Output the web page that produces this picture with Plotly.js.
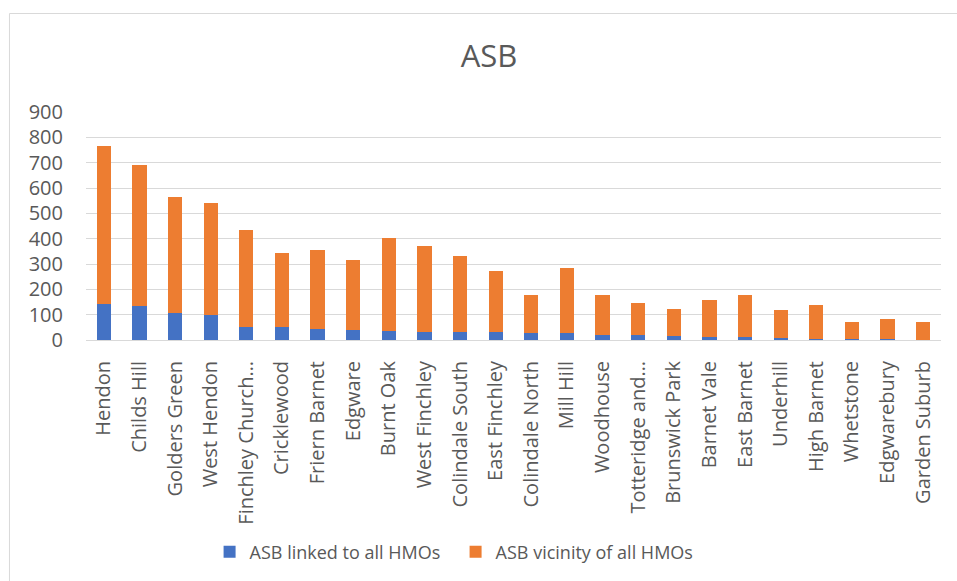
<!DOCTYPE html>
<html>
<head>
<meta charset="utf-8">
<script src="https://cdn.plot.ly/plotly-3.0.1.min.js"></script>
<style>
  html, body { margin: 0; padding: 0; background: #ffffff; }
  #chart { width: 957px; height: 581px; }
</style>
</head>
<body>
<div id="chart"></div>
<script>
// Wards, ordered as in the report
const wards = [
  "Hendon", "Childs Hill", "Golders Green", "West Hendon", "Finchley Church…",
  "Cricklewood", "Friern Barnet", "Edgware", "Burnt Oak", "West Finchley",
  "Colindale South", "East Finchley", "Colindale North", "Mill Hill", "Woodhouse",
  "Totteridge and…", "Brunswick Park", "Barnet Vale", "East Barnet", "Underhill",
  "High Barnet", "Whetstone", "Edgwarebury", "Garden Suburb"
];

// ASB incidents linked to HMOs
const asbLinked = [
  143, 134, 108, 97, 53,
  50, 45, 39, 34, 33,
  30, 30, 29, 29, 21,
  20, 14, 10, 10, 9,
  5, 4, 2, 1
];

// ASB incidents in the vicinity of HMOs
const asbVicinity = [
  623, 558, 458, 442, 382,
  294, 312, 275, 368, 340,
  300, 241, 147, 254, 156,
  126, 108, 149, 169, 108,
  133, 67, 81, 69
];

const yTicks = [0, 100, 200, 300, 400, 500, 600, 700, 800, 900];

const textGrey = "#595959";
const fontFamily = "'Open Sans', 'Noto Sans', sans-serif";

const traces = [
  {
    type: "bar",
    name: "ASB linked to all HMOs",
    x: wards,
    y: asbLinked,
    marker: { color: "#4472C4" },
    hoverinfo: "x+y+name"
  },
  {
    type: "bar",
    name: "ASB vicinity of all HMOs",
    x: wards,
    y: asbVicinity,
    marker: { color: "#ED7D31" },
    hoverinfo: "x+y+name"
  }
];

const layout = {
  width: 957,
  height: 581,
  margin: { l: 86, r: 16, t: 112, b: 241 },
  paper_bgcolor: "#ffffff",
  plot_bgcolor: "#ffffff",
  barmode: "stack",
  bargap: 0.6,
  font: { family: fontFamily, color: textGrey, size: 18 },
  title: {
    text: "ASB",
    font: { family: fontFamily, size: 31, color: textGrey },
    xref: "container",
    yref: "container",
    x: 0.511,
    xanchor: "center",
    y: 0.903,
    yanchor: "middle"
  },
  xaxis: {
    type: "category",
    tickangle: -90,
    tickfont: { family: fontFamily, size: 20, color: textGrey },
    showgrid: false,
    showline: true,
    linecolor: "#d9d9d9",
    linewidth: 1,
    ticks: "",
    ticklabelstandoff: 12,
    fixedrange: true
  },
  yaxis: {
    range: [0, 900],
    tickvals: yTicks,
    ticktext: yTicks.map(String),
    tickfont: { family: fontFamily, size: 20, color: textGrey },
    showgrid: true,
    gridcolor: "#d9d9d9",
    gridwidth: 1,
    zeroline: false,
    showline: false,
    ticks: "",
    ticklabelstandoff: 22,
    fixedrange: true
  },
  showlegend: true,
  legend: {
    orientation: "h",
    traceorder: "normal",
    xref: "container",
    yref: "container",
    x: 0.219,
    xanchor: "left",
    y: 0.05,
    yanchor: "middle",
    entrywidth: 201,
    entrywidthmode: "pixels",
    font: { family: fontFamily, size: 18, color: textGrey },
    bgcolor: "rgba(0,0,0,0)"
  },
  shapes: [
    {
      // chart frame: left and top edges
      type: "rect",
      xref: "paper",
      yref: "paper",
      x0: -0.0895,
      x1: 2,
      y0: -3,
      y1: 1.432,
      line: { color: "#d9d9d9", width: 1 },
      fillcolor: "rgba(0,0,0,0)",
      layer: "below"
    }
  ]
};

Plotly.newPlot("chart", traces, layout, { displayModeBar: false, staticPlot: true });
</script>
</body>
</html>
